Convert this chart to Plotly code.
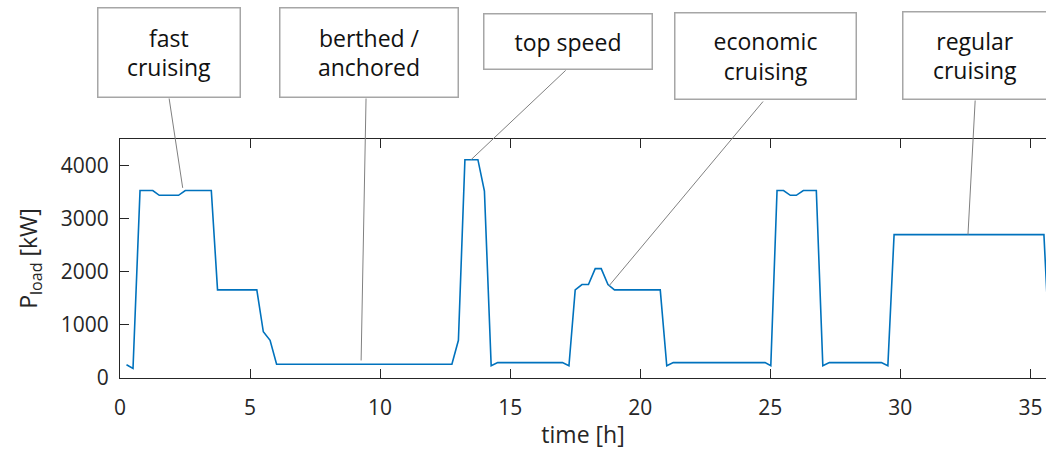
import plotly.graph_objects as go

# Load profile of the vessel over the voyage
time_h = [0.25, 0.5, 0.77, 1.26, 1.51, 2.25, 2.51, 3.51, 3.75, 5.26, 5.51, 5.77, 6.02,
          12.76, 13.01, 13.26, 13.76, 14.01, 14.27, 14.52, 17.01, 17.26, 17.5, 17.76,
          18.01, 18.27, 18.5, 18.76, 19.01, 20.77, 21.02, 21.27, 24.8, 25.02, 25.26,
          25.51, 25.77, 26.0, 26.27, 26.77, 27.02, 27.27, 29.27, 29.52, 29.76, 35.52, 35.77]
p_load_kw = [250, 180, 3530, 3530, 3440, 3440, 3530, 3530, 1660, 1660, 870, 710, 260,
             260, 710, 4110, 4110, 3520, 230, 290, 290, 230, 1660, 1760,
             1760, 2060, 2060, 1760, 1660, 1660, 230, 290, 290, 230, 3530,
             3530, 3440, 3440, 3530, 3530, 230, 290, 290, 230, 2700, 2700, 230]

# Operating-mode callouts: label, point on the curve, box centre, line start
mode_labels = ["fast<br>cruising", "berthed /<br>anchored", "top speed",
               "economic<br>cruising", "regular<br>cruising"]
mode_point_t = [2.41, 9.27, 13.5, 18.8, 32.6]
mode_point_p = [3580, 330, 4112, 1735, 2700]
box_center_t = [1.87, 9.56, 17.21, 24.81, 32.88]
box_center_y = [1.364, 1.364, 1.410, 1.347, 1.351]   # paper units above the axes
box_width = [141, 177, 167, 180, 143]
box_height = [88, 88, 54, 85, 86]
line_start_t = [1.88, 9.46, 17.19, 24.77, 32.88]
line_start_p = [5291, 5291, 5818, 5234, 5253]

x_ticks = [0, 5, 10, 15, 20, 25, 30, 35]
y_ticks = [0, 1000, 2000, 3000, 4000]

AX = "#262626"
FONT = "Open Sans, sans-serif"

fig = go.Figure()
fig.add_trace(go.Scatter(
    x=time_h, y=p_load_kw, mode="lines",
    line=dict(color="#0072BD", width=1.6),
    showlegend=False, hoverinfo="skip",
))

annotations = []
for i in range(len(mode_labels)):
    # connector line from the box to the curve
    annotations.append(dict(
        x=mode_point_t[i], y=mode_point_p[i], xref="x", yref="y",
        ax=line_start_t[i], ay=line_start_p[i], axref="x", ayref="y",
        text="", showarrow=True, arrowhead=0, arrowwidth=1,
        arrowcolor="#808080", standoff=0, startstandoff=0,
    ))
    # label box
    annotations.append(dict(
        x=box_center_t[i], y=box_center_y[i], xref="x", yref="paper",
        xanchor="center", yanchor="middle",
        text=mode_labels[i], showarrow=False,
        width=box_width[i], height=box_height[i],
        bordercolor="#a6a6a6", borderwidth=1.5, borderpad=0,
        bgcolor="white", align="center", valign="middle",
        font=dict(family=FONT, size=23, color="#111111"),
    ))

fig.update_layout(
    width=1046, height=454,
    margin=dict(l=120, r=0, t=139, b=76),
    paper_bgcolor="white", plot_bgcolor="white",
    font=dict(family=FONT, size=21, color=AX),
    annotations=annotations,
    xaxis=dict(
        range=[0, 35.6], tickvals=x_ticks, ticktext=[str(v) for v in x_ticks],
        ticks="inside", ticklen=9, tickwidth=1.2, tickcolor=AX,
        ticklabelstandoff=11,
        showline=True, linecolor=AX, linewidth=1.2, mirror="ticks",
        showgrid=False, zeroline=False,
        title=dict(text="time [h]", font=dict(size=23, color=AX), standoff=6),
    ),
    yaxis=dict(
        range=[0, 4500], tickvals=y_ticks, ticktext=[str(v) for v in y_ticks],
        ticks="inside", ticklen=9, tickwidth=1.2, tickcolor=AX,
        ticklabelstandoff=6,
        showline=True, linecolor=AX, linewidth=1.2,
        showgrid=False, zeroline=False,
        title=dict(text="P<sub>load</sub> [kW]", font=dict(size=23, color=AX), standoff=16),
    ),
)

fig.write_html("out.html")
